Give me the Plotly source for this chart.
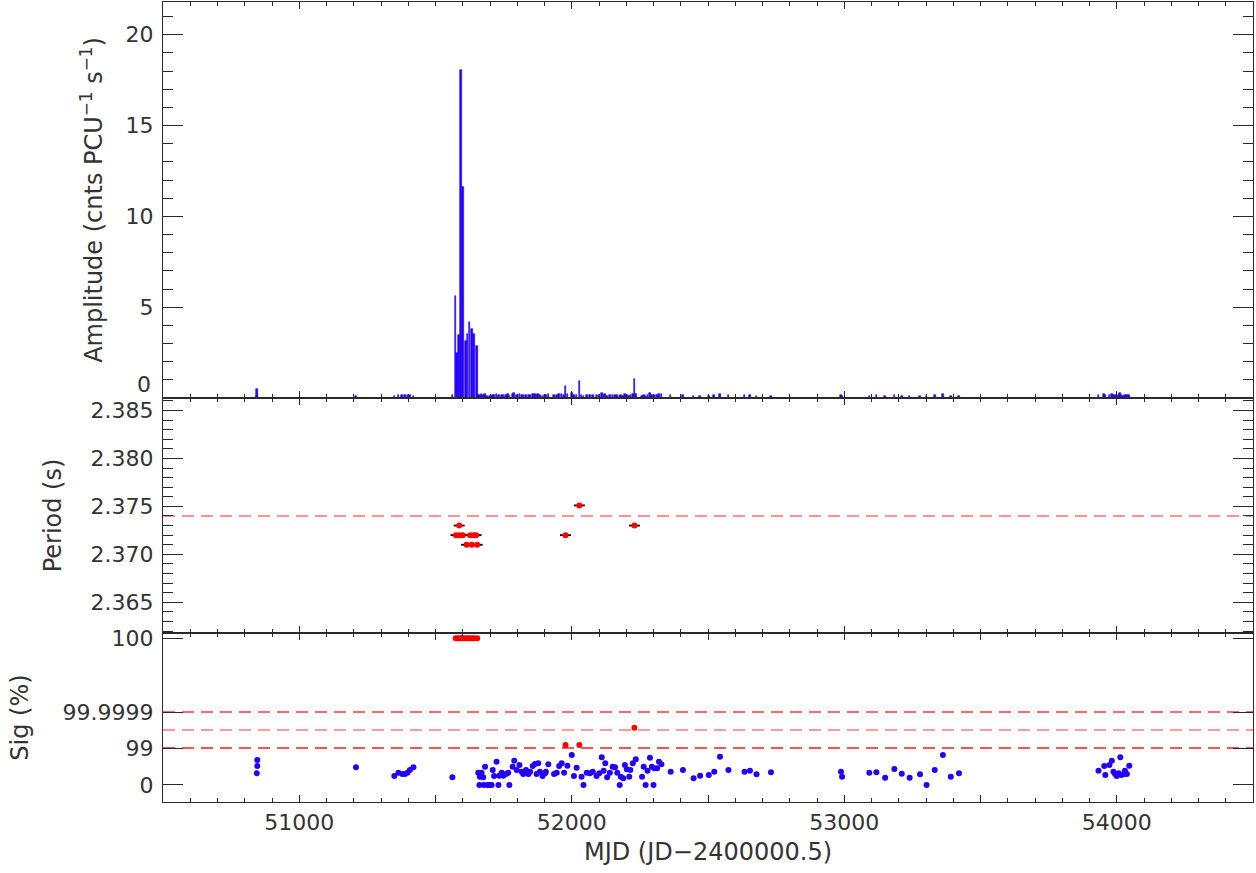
import plotly.graph_objects as go
from plotly.subplots import make_subplots

# ---------------------------------------------------------------------------
# Observation log: MJD, pulsed amplitude (cnts/PCU/s) and significance level.
# Significance is stored as -log10(1 - Sig); 100 % detections are capped at 14.2
# and 0 % sits at -2.11 on this display scale.
# ---------------------------------------------------------------------------
obs_mjd = [
    50844, 50846, 50846, 51208, 51349, 51364, 51378, 51388, 51397, 51406, 51419, 51562,
    51574, 51580, 51587, 51594, 51601, 51611, 51617, 51625, 51633, 51641, 51653,
    51657, 51661, 51663, 51669, 51675, 51677, 51682, 51690, 51700, 51706, 51710, 51715,
    51724, 51731, 51734, 51743, 51749, 51759, 51767, 51771, 51783, 51789, 51798, 51808,
    51816, 51822, 51832, 51841, 51847, 51857, 51865, 51871, 51877, 51883, 51893, 51902,
    51905, 51914, 51935, 51945, 51954, 51963, 51972, 51977, 51984, 52000, 52008, 52018,
    52028, 52036, 52043, 52055, 52067, 52077, 52091, 52101, 52110, 52117, 52123, 52130,
    52140, 52150, 52159, 52167, 52176, 52180, 52189, 52195, 52202, 52211, 52215, 52224,
    52230, 52235, 52258, 52264, 52271, 52278, 52287, 52294, 52300, 52303, 52313, 52320,
    52329, 52363, 52408, 52447, 52471, 52503, 52523, 52544, 52575, 52634, 52654, 52678,
    52731, 52988, 52992, 53092, 53118, 53150, 53184, 53211, 53240, 53278, 53302, 53332,
    53362, 53391, 53421, 53933, 53954, 53958, 53973, 53982, 53988, 53994, 54000, 54007,
    54013, 54017, 54024, 54030, 54037, 54046,
]
obs_amp = [
    0.10, 0.12, 0.38, 0.12, 0.12, 0.16, 0.14, 0.18, 0.15, 0.17, 0.12, 0.15,
    5.60, 2.50, 3.45, 18.05, 11.60, 3.15, 3.55, 4.20, 3.80, 3.55, 2.85,
    0.18, 0.12, 0.15, 0.20, 0.14, 0.10, 0.22, 0.12, 0.10, 0.13, 0.18, 0.15,
    0.24, 0.10, 0.16, 0.19, 0.14, 0.17, 0.20, 0.11, 0.22, 0.27, 0.18, 0.21,
    0.17, 0.15, 0.19, 0.16, 0.18, 0.20, 0.23, 0.15, 0.22, 0.17, 0.13, 0.16,
    0.18, 0.21, 0.14, 0.17, 0.20, 0.22, 0.16, 0.66, 0.20, 0.30, 0.15, 0.19,
    0.95, 0.14, 0.10, 0.16, 0.15, 0.17, 0.14, 0.16, 0.26, 0.18, 0.21, 0.13,
    0.16, 0.19, 0.18, 0.15, 0.10, 0.14, 0.12, 0.20, 0.17, 0.13, 0.16, 0.21,
    1.03, 0.24, 0.13, 0.18, 0.10, 0.16, 0.25, 0.18, 0.10, 0.17, 0.16, 0.22,
    0.20, 0.14, 0.15, 0.11, 0.12, 0.13, 0.15, 0.24, 0.15, 0.14, 0.15, 0.12,
    0.13, 0.14, 0.12, 0.13, 0.14, 0.11, 0.16, 0.13, 0.11, 0.12, 0.09, 0.15,
    0.22, 0.12, 0.13, 0.16, 0.20, 0.14, 0.19, 0.22, 0.15, 0.14, 0.12, 0.15,
    0.25, 0.14, 0.13, 0.16, 0.14, 0.18,
]
obs_sig = [
    -0.81, 0.00, 0.67, -0.15, -1.11, -0.74, -0.89, -0.89, -0.74, -0.44, -0.15, -1.26,
    14.2, 14.2, 14.2, 14.2, 14.2, 14.2, 14.2, 14.2, 14.2, 14.2, 14.2,
    -0.74, -2.11, -1.19, -0.74, -1.26, -2.11, -0.07, -2.11, -2.11, -2.11, -0.44, -1.11,
    0.48, -2.11, -1.07, -0.74, -1.07, -0.89, -0.74, -2.11, -0.07, 0.59, -0.44, 0.11,
    -0.63, -0.89, -0.44, -0.89, -0.63, 0.00, 0.22, -0.89, 0.30, -0.63, -1.11, -0.81,
    -0.63, 0.19, -0.89, -0.74, 0.00, 0.30, -0.74, 2.33, 0.04, 1.22, -1.11, -0.19,
    2.33, -1.19, -2.11, -0.74, -0.81, -0.63, -1.11, -0.81, 0.96, -0.52, 0.30, -1.26,
    -0.74, -0.07, -0.15, -0.74, -2.11, -1.19, -1.37, 0.11, -0.37, -1.19, -0.44, 0.30,
    4.26, 0.74, -1.19, -0.07, -2.11, -0.52, 0.93, -0.07, -2.11, -0.26, -0.26, 0.48,
    0.19, -0.63, -0.44, -1.37, -1.07, -1.00, -0.63, 1.04, -0.44, -0.63, -0.52, -0.93,
    -0.70, -0.63, -1.19, -0.74, -0.70, -1.30, -0.33, -0.85, -1.30, -0.93, -2.11, -0.44,
    1.22, -1.19, -0.81, -0.52, 0.00, -1.00, 0.11, 0.59, -0.63, -0.89, -1.11, -0.81,
    0.96, -1.00, -0.93, -0.52, -0.89, 0.04,
]

# Pulse period measurements for the significant detections
period_mjd = [51575, 51587, 51587, 51600, 51614, 51627, 51633, 51641, 51649, 51653,
              51977, 52028, 52230]
period_val = [2.372, 2.373, 2.372, 2.372, 2.371, 2.372, 2.371, 2.372, 2.372, 2.371,
              2.372, 2.3751, 2.373]
period_err = [20, 20, 20, 20, 20, 20, 20, 20, 20, 20, 20, 20, 20]
period_ref = 2.374

# Significance thresholds (99 %, 99.99 %, 99.9999 %) on the -log10(1 - Sig) scale
sig_thresholds = [2, 4, 6]
sig_threshold_colors = ["#ff1a1a", "#ff7a7a", "#f03c3c"]
sig_tick_vals = [-2.11, 2, 6, 14.2]
sig_tick_text = ["0", "99", "99.9999", "100"]
sig_cut = 2

amp_tick_vals = [0, 5, 10, 15, 20]
amp_tick_text = ["", "5", "10", "15", "20"]
period_tick_vals = [2.365, 2.370, 2.375, 2.380, 2.385]
period_tick_text = ["2.365", "2.370", "2.375", "2.380", "2.385"]
mjd_tick_vals = [50500, 51000, 51500, 52000, 52500, 53000, 53500, 54000, 54500]
mjd_tick_text = ["", "51000", "", "52000", "", "53000", "", "54000", ""]

BLUE = "#2200ff"
RED = "#ff0000"
INK = "#2a2a2a"
TXT = "#333333"
FONT = "DejaVu Sans"

fig = make_subplots(rows=3, cols=1, shared_xaxes=True, vertical_spacing=0)

# Amplitude history
fig.add_trace(go.Bar(x=obs_mjd, y=obs_amp, width=6,
                     marker=dict(color=BLUE, line=dict(color=BLUE, width=0.6)),
                     showlegend=False), row=1, col=1)

# Period measurements with horizontal error bars
fig.add_trace(go.Scatter(x=period_mjd, y=period_val, mode="markers",
                         marker=dict(color=RED, size=6),
                         error_x=dict(type="data", array=period_err, color="black",
                                      thickness=1.8, width=0),
                         showlegend=False), row=2, col=1)

# Significance: blue below 99 %, red above
lo_x = [m for m, s in zip(obs_mjd, obs_sig) if s < sig_cut]
lo_y = [s for s in obs_sig if s < sig_cut]
hi_x = [m for m, s in zip(obs_mjd, obs_sig) if s >= sig_cut]
hi_y = [s for s in obs_sig if s >= sig_cut]
fig.add_trace(go.Scatter(x=lo_x, y=lo_y, mode="markers",
                         marker=dict(color=BLUE, size=6), showlegend=False), row=3, col=1)
fig.add_trace(go.Scatter(x=hi_x, y=hi_y, mode="markers",
                         marker=dict(color=RED, size=6), showlegend=False), row=3, col=1)

# Reference lines
fig.add_shape(type="line", xref="x2 domain", x0=0, x1=1, yref="y2",
              y0=period_ref, y1=period_ref,
              line=dict(color="#ff7070", width=1.5, dash="12px,7px"), layer="below")
for lvl, col in zip(sig_thresholds, sig_threshold_colors):
    fig.add_shape(type="line", xref="x3 domain", x0=0, x1=1, yref="y3",
                  y0=lvl, y1=lvl,
                  line=dict(color=col, width=1.5, dash="12px,7px"), layer="below")

axis_common = dict(showline=True, linecolor=INK, linewidth=1.2, mirror="allticks",
                   ticks="inside", tickcolor=INK, showgrid=False, zeroline=False,
                   automargin=False)

xa = dict(axis_common, range=[50500, 54500], tickmode="array",
          tickvals=mjd_tick_vals, ticktext=mjd_tick_text, ticklen=7, tickwidth=1.3,
          minor=dict(tickmode="linear", tick0=50500, dtick=100, ticks="inside",
                     ticklen=4, tickcolor=INK, tickwidth=1))
fig.update_xaxes(**xa)
fig.update_xaxes(showticklabels=False, row=1, col=1)
fig.update_xaxes(showticklabels=False, row=2, col=1)
fig.update_xaxes(showticklabels=True, row=3, col=1,
                 tickfont=dict(family=FONT, size=22, color=TXT),
                 title=dict(text="MJD (JD\u22122400000.5)", standoff=9,
                            font=dict(family=FONT, size=24, color=TXT)))

ya = dict(axis_common, ticklen=20, tickwidth=1.3,
          tickfont=dict(family=FONT, size=22, color=TXT), ticklabelstandoff=4)
fig.update_yaxes(**ya)
fig.update_yaxes(row=1, col=1, domain=[0.505, 1.0], range=[0, 21.8],
                 tickmode="array", tickvals=amp_tick_vals, ticktext=amp_tick_text,
                 minor=dict(tickmode="linear", tick0=0, dtick=1, ticks="inside",
                            ticklen=10, tickcolor=INK, tickwidth=1),
                 title=dict(text="Amplitude (cnts PCU<sup>\u22121</sup> s<sup>\u22121</sup>)",
                            standoff=16, font=dict(family=FONT, size=24, color=TXT)))
fig.update_yaxes(row=2, col=1, domain=[0.21125, 0.505], range=[2.3618, 2.3863],
                 tickmode="array", tickvals=period_tick_vals, ticktext=period_tick_text,
                 minor=dict(tickmode="linear", tick0=2.365, dtick=0.001, ticks="inside",
                            ticklen=10, tickcolor=INK, tickwidth=1),
                 title=dict(text="Period (s)", standoff=22,
                            font=dict(family=FONT, size=24, color=TXT)))
fig.update_yaxes(row=3, col=1, domain=[0, 0.21125], range=[-4.0, 14.78],
                 tickmode="array", tickvals=sig_tick_vals, ticktext=sig_tick_text,
                 title=dict(text="Sig (%)", standoff=27,
                            font=dict(family=FONT, size=24, color=TXT)))

# Zero label of the amplitude axis sits just above the panel boundary
fig.add_annotation(text="0", xref="paper", x=0, xshift=-10, xanchor="right",
                   yref="y", y=0, yanchor="bottom", yshift=-1, showarrow=False,
                   font=dict(family=FONT, size=22, color=TXT))

fig.update_layout(width=1256, height=873, margin=dict(l=163, r=3, t=2, b=71),
                  paper_bgcolor="white", plot_bgcolor="white", bargap=0,
                  font=dict(family=FONT, color=TXT))

fig.write_html("out.html")
